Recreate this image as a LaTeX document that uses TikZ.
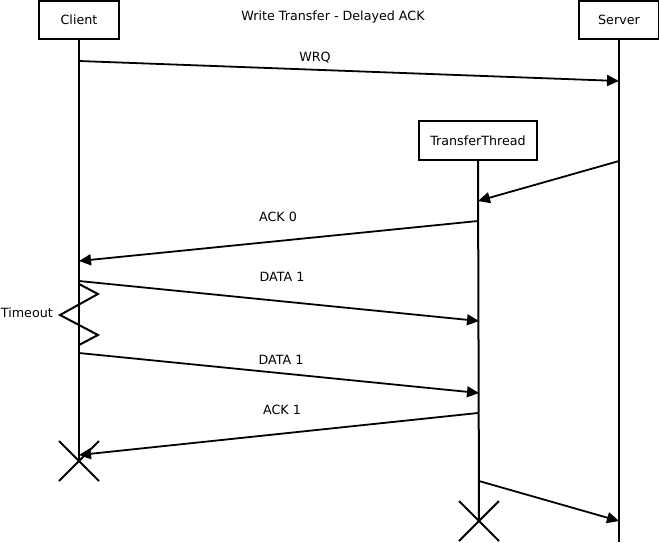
\documentclass[tikz,border=0pt]{standalone}
\usepackage{fontspec}
\setmainfont{DejaVu Sans}
\usetikzlibrary{arrows.meta,calc}
\begin{document}
\begin{tikzpicture}[x=1pt,y=-1pt,
  every node/.style={font=\fontsize{12.7}{15}\selectfont, inner sep=0pt},
  actor/.style={draw, line width=2pt, minimum height=38pt},
  life/.style={line width=2pt},
  msg/.style={line width=1.8pt, -{Triangle[length=12pt,width=11pt]}},
  lbl/.style={anchor=base},
  killmark/.style={line width=1.8pt}]
\useasboundingbox (0,0) rectangle (659,542);

% participants
\node[actor, minimum width=80pt] (client) at (79,20) {Client};
\node[actor, minimum width=80pt] (server) at (619,20) {Server};
\node[actor, minimum width=118pt, minimum height=39pt] (thread) at (478,140.5) {TransferThread};
\node (title) at (333,17) {Write Transfer - Delayed ACK};

% lifeline ends
\coordinate (cEnd) at (79,461);
\coordinate (sEnd) at (619,542);
\coordinate (tEnd) at (479,521);
\draw[life] (client.south) -- (cEnd);
\draw[life] (server.south) -- (sEnd);
\draw[life] (thread.south) -- (tEnd);

% message points
\coordinate (c1) at (79,61);   \coordinate (s1) at (619,81);
\coordinate (s2) at (619,161); \coordinate (t2) at (478,201);
\coordinate (t3) at (478,221); \coordinate (c3) at (79,261);
\coordinate (c4) at (79,281);  \coordinate (t4) at (479,321);
\coordinate (c5) at (79,353);  \coordinate (t5) at (479,393);
\coordinate (t6) at (478,413); \coordinate (c6) at (79,455);
\coordinate (t7) at (479,481); \coordinate (s7) at (619,521);

\draw[msg] (c1) -- (s1);
\draw[msg] (s2) -- (t2);
\draw[msg] (t3) -- (c3);
\draw[msg] (c4) -- (t4);
\draw[msg] (c5) -- (t5);
\draw[msg] (t6) -- (c6);
\draw[msg] (t7) -- (s7);

\node[lbl] (wrq) at (315,61) {WRQ};
\node[lbl] (ack0) at (278,221) {ACK 0};
\node[lbl] (data1a) at (282,281) {DATA 1};
\node[lbl] (data1b) at (281,364) {DATA 1};
\node[lbl] (ack1) at (282,414) {ACK 1};

% timeout zigzag on the client lifeline
\coordinate (z0) at (79,284);
\coordinate (z4) at (79,345);
\draw[life, line join=miter] (z0) -- (98,294) -- (60,315) -- (98,335) -- (z4);
\node[anchor=east] (timeout) at (53,313) {Timeout};

% destruction marks
\draw[killmark] ($(cEnd)+(-20,-20)$) -- ($(cEnd)+(20,20)$);
\draw[killmark] ($(cEnd)+(-20,20)$) -- ($(cEnd)+(20,-20)$);
\draw[killmark] ($(tEnd)+(-20,-20)$) -- ($(tEnd)+(20,20)$);
\draw[killmark] ($(tEnd)+(-20,20)$) -- ($(tEnd)+(20,-20)$);
\end{tikzpicture}
\end{document}
